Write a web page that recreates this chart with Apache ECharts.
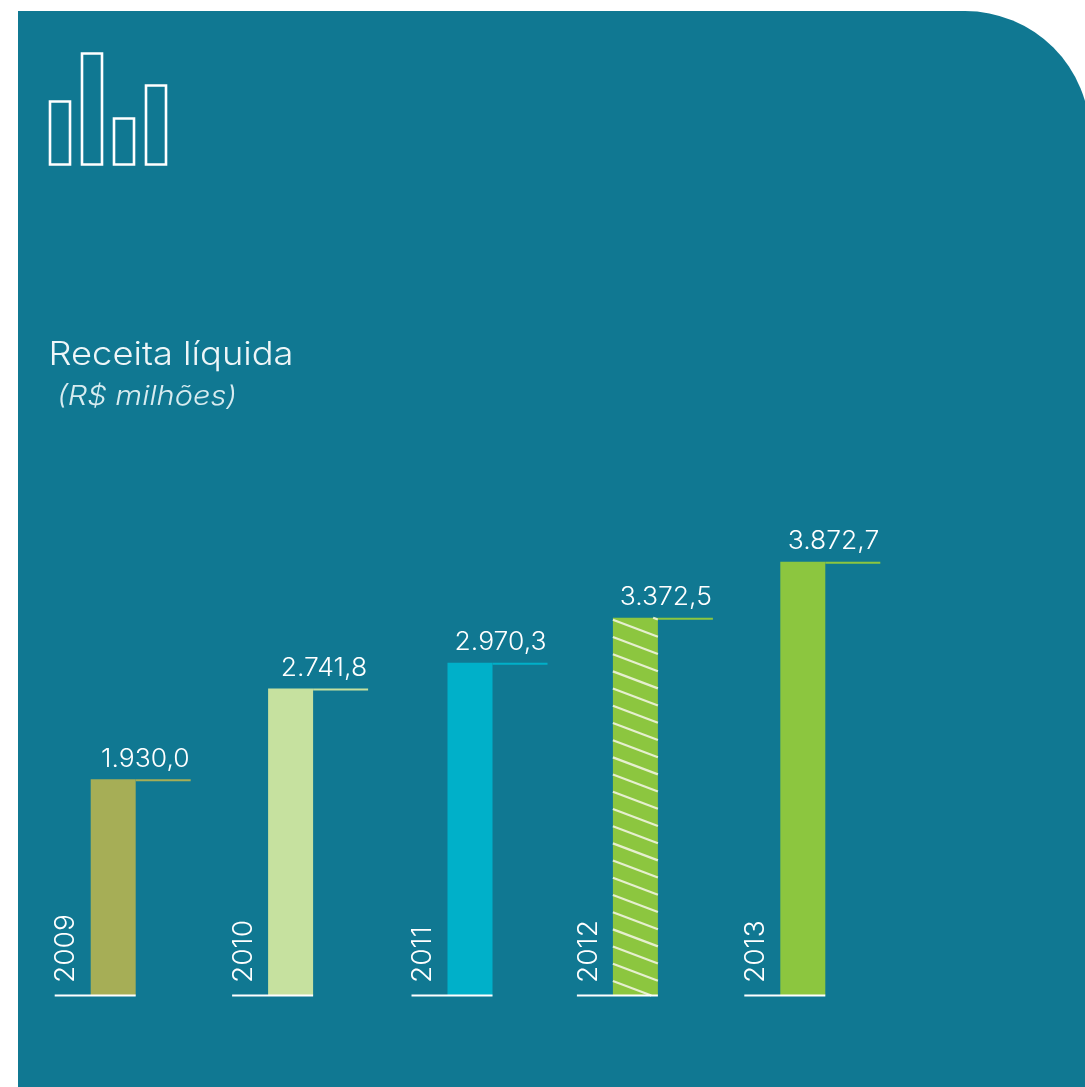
<!DOCTYPE html>
<html>
<head>
<meta charset="utf-8">
<style>
html,body{margin:0;padding:0;background:#fff;overflow:hidden}
#chart{width:1085px;height:1087px}
</style>
<script src="https://cdn.jsdelivr.net/npm/echarts@6/dist/echarts.min.js"></script>
</head>
<body>
<div id="chart"></div>
<script>
// Net revenue per year, R$ millions
const categories = ['2009', '2010', '2011', '2012', '2013'];
const revenue = [1930.0, 2741.8, 2970.3, 3372.5, 3872.7];
const valueLabels = ['1.930,0', '2.741,8', '2.970,3', '3.372,5', '3.872,7'];
const barColors = ['#a6ae56', '#c6e19f', '#00b0c9', '#8cc63f', '#8cc63f'];
const hatchedYears = ['2012'];
// Horizontal shift of each column from the centre of its band
const bandShift = [0, 5, 12, 5, 0];
// Heights of the decorative icon's four columns
const iconHeights = [63, 111, 46, 79];

const PANEL = '#107892';
const FONT = 'Inter, "Open Sans", sans-serif';
const BAR_W = 45;
const LEADER = 55;

function renderColumn(params, api) {
  const i = api.value(0);
  const top = api.coord([i, api.value(1)]);
  const base = api.coord([i, 0]);
  const cx = top[0] + bandShift[i];
  const left = cx - BAR_W / 2, right = cx + BAR_W / 2;
  const color = barColors[i];
  const kids = [{
    type: 'rect',
    shape: { x: left, y: top[1], width: BAR_W, height: base[1] - top[1] },
    style: { fill: color }
  }];

  if (hatchedYears.includes(categories[i])) {
    const drop = 17, gap = 17.2;
    for (let y = top[1] + 2 - gap; y < base[1]; y += gap) {
      let x1 = left, y1 = y, x2 = right, y2 = y + drop;
      if (y1 < top[1]) { x1 = left + (top[1] - y1) / drop * BAR_W; y1 = top[1]; }
      if (y2 > base[1]) { x2 = left + (base[1] - y1) / drop * BAR_W; y2 = base[1]; }
      kids.push({
        type: 'line',
        shape: { x1, y1, x2, y2 },
        style: { stroke: '#e6efcf', lineWidth: 2.2 }
      });
    }
  }

  kids.push({
    type: 'line',
    shape: { x1: right, y1: top[1] + 1, x2: right + LEADER, y2: top[1] + 1 },
    style: { stroke: color, lineWidth: 2 }
  }, {
    type: 'line',
    shape: { x1: left - 36, y1: base[1], x2: right, y2: base[1] },
    style: { stroke: '#ffffff', lineWidth: 2 }
  }, {
    type: 'text',
    x: right + LEADER - 1,
    y: top[1] - 20,
    scaleX: 1.06,
    style: {
      text: valueLabels[i], fill: '#ffffff', font: '300 25px ' + FONT,
      align: 'right', verticalAlign: 'middle'
    }
  }, {
    type: 'text',
    x: left - 24.5,
    y: base[1] - 12.5,
    rotation: Math.PI / 2,
    scaleX: 1.04,
    style: {
      text: categories[i], fill: '#ffffff', font: '300 27px ' + FONT,
      align: 'left', verticalAlign: 'middle'
    }
  });
  return { type: 'group', children: kids };
}

const iconColumns = iconHeights.map((h, i) => ({
  type: 'rect',
  shape: { x: 50 + i * 32, y: 164.5 - h, width: 20, height: h },
  style: { fill: 'transparent', stroke: '#ffffff', lineWidth: 2.6 }
}));

const chart = echarts.init(document.getElementById('chart'), null, { renderer: 'canvas' });
chart.setOption({
  animation: false,
  backgroundColor: '#ffffff',
  grid: { left: 27, top: 547.5, width: 862, height: 448 },
  xAxis: { type: 'category', data: categories, show: false },
  yAxis: { type: 'value', min: 0, max: 4000, show: false },
  graphic: [
    {
      type: 'rect', z: -10,
      shape: { x: 18, y: 11, width: 1072, height: 1090, r: [0, 125, 0, 0] },
      style: { fill: PANEL }
    },
    ...iconColumns.map(c => ({ ...c, z: 5 })),
    {
      type: 'text', x: 48.5, y: 355, z: 5, scaleX: 1.1,
      style: { text: 'Receita líquida', fill: '#eef6f8', font: '300 33px ' + FONT, verticalAlign: 'middle' }
    },
    {
      type: 'text', x: 57, y: 397, z: 5, scaleX: 1.14,
      style: { text: '(R$ milhões)', fill: '#d8ecf0', font: 'italic 300 27px ' + FONT, verticalAlign: 'middle' }
    }
  ],
  series: [{
    type: 'custom',
    clip: false,
    renderItem: renderColumn,
    encode: { x: 0, y: 1 },
    data: revenue.map((v, i) => [i, v])
  }]
});
</script>
</body>
</html>
